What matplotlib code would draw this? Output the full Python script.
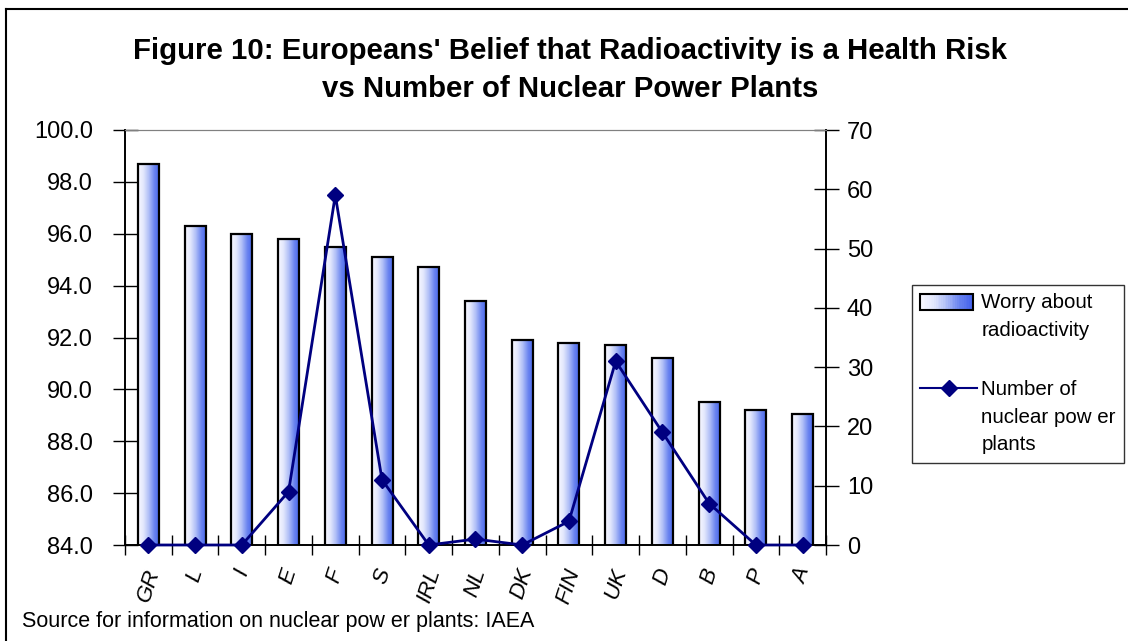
import numpy as np
import matplotlib
matplotlib.use("Agg")
import matplotlib.pyplot as plt
from matplotlib.legend_handler import HandlerBase
from matplotlib.patches import Rectangle
from matplotlib.lines import Line2D
from matplotlib.colors import LinearSegmentedColormap

plt.rcParams['font.family'] = ['Liberation Sans', 'DejaVu Sans']

countries = ["GR", "L", "I", "E", "F", "S", "IRL", "NL", "DK", "FIN", "UK", "D", "B", "P", "A"]
worry = [98.7, 96.3, 96.0, 95.8, 95.5, 95.1, 94.7, 93.4, 91.9, 91.8, 91.7, 91.2, 89.5, 89.2, 89.05]
plants = [0, 0, 0, 9, 59, 11, 0, 1, 0, 4, 31, 19, 7, 0, 0]

left_ticks = [84, 86, 88, 90, 92, 94, 96, 98, 100]
right_ticks = [0, 10, 20, 30, 40, 50, 60, 70]

W, H = 1128, 641
fig = plt.figure(figsize=(W / 100, H / 100), dpi=100)
ax = fig.add_axes([125 / W, 1 - 545 / H, (826 - 125) / W, (545 - 130) / H])

cmap = LinearSegmentedColormap.from_list("g", ["#f8f8ff", "#e2e7fd", "#aebdf7", "#6a84f0", "#4563ec"])
grad = np.linspace(0, 1, 64).reshape(1, -1)

x = np.arange(len(countries))
bars = ax.bar(x, worry, width=0.45, bottom=0, color="none", edgecolor="black", linewidth=1.6, zorder=3)
for b in bars:
    x0, w, h = b.get_x(), b.get_width(), b.get_height()
    im = ax.imshow(grad, cmap=cmap, aspect="auto", extent=(x0, x0 + w, 84, h),
                   zorder=2, interpolation="bilinear")
    im.set_clip_path(b)
ax.set_xlim(-0.5, len(countries) - 0.5)
ax.set_ylim(84, 100)

ax.set_yticks(left_ticks)
ax.set_yticklabels([f"{v:.1f}" for v in left_ticks], fontsize=17)
ax.set_xticks(x)
ax.set_xticklabels(countries, rotation=72, fontsize=16, style="italic",
                   ha="center", va="top")
ax.tick_params(axis="x", length=0, pad=15)
ax.set_xticks(np.arange(len(countries) + 1) - 0.5, minor=True)
ax.tick_params(axis="x", which="minor", direction="inout", length=14, width=1, colors="black")
ax.tick_params(axis="y", direction="inout", length=18, width=1, pad=14)
ax.spines["top"].set_color("#808080")
for s in ["left", "bottom", "right"]:
    ax.spines[s].set_linewidth(1.2)

ax2 = ax.twinx()
ax2.set_ylim(0, 70)
ax2.set_yticks(right_ticks)
ax2.set_yticklabels([str(v) for v in right_ticks], fontsize=17)
ax2.tick_params(axis="y", direction="inout", length=18, width=1, pad=6)
for s in ["left", "bottom", "right"]:
    ax2.spines[s].set_linewidth(1.2)
ax2.spines["top"].set_color("#808080")
line, = ax2.plot(x, plants, color="#000080", linewidth=2, marker="D", markersize=8,
                 clip_on=False, zorder=5)

FS = 14.8
LS = 1.58


class GradHandler(HandlerBase):
    def create_artists(self, legend, orig_handle, xdescent, ydescent, width, height, fontsize, trans):
        arts = []
        n = 30
        w = width / n
        dy = 0.5 * LS * 0.9 * fontsize
        hh = 0.78 * fontsize
        y0 = -ydescent + height / 2 - hh / 2 + dy
        for i in range(n):
            r = Rectangle((-xdescent + i * w, y0), w * 1.05, hh,
                          facecolor=cmap(i / (n - 1)), edgecolor="none", transform=trans)
            arts.append(r)
        arts.append(Rectangle((-xdescent, y0), width, hh, facecolor="none",
                              edgecolor="black", linewidth=1.5, transform=trans))
        return arts


class LineHandler(HandlerBase):
    def create_artists(self, legend, orig_handle, xdescent, ydescent, width, height, fontsize, trans):
        dy = 1.0 * LS * 0.9 * fontsize
        yc = -ydescent + height / 2 + dy
        ln = Line2D([-xdescent, -xdescent + width * 1.08], [yc, yc], color="#000080", linewidth=1.5,
                    transform=trans)
        mk = Line2D([-xdescent + width * 0.54], [yc], color="#000080", marker="D", markersize=8,
                    linestyle="none", transform=trans)
        return [ln, mk]


proxy_bar = Rectangle((0, 0), 1, 1)
proxy_line = Line2D([], [])
leg = fig.legend([proxy_bar, proxy_line],
                 ["Worry about\nradioactivity", "Number of\nnuclear pow er\nplants"],
                 handler_map={Rectangle: GradHandler(), Line2D: LineHandler()},
                 loc="upper left", bbox_to_anchor=(912 / W, 1 - 285 / H),
                 fontsize=FS, frameon=True, fancybox=False, edgecolor="black",
                 handlelength=2.55, handleheight=0.8, labelspacing=1.95,
                 borderpad=0.4, handletextpad=0.42, borderaxespad=0)
leg.get_frame().set_linewidth(1.0)
for t in leg.get_texts():
    t.set_linespacing(LS)

fig.text(570 / W, 1 - 51 / H, "Figure 10: Europeans' Belief that Radioactivity is a Health Risk",
         ha="center", va="center", fontsize=21.2, fontweight="bold")
fig.text(570 / W, 1 - 89 / H, "vs Number of Nuclear Power Plants",
         ha="center", va="center", fontsize=21.2, fontweight="bold")
fig.text(22 / W, 1 - 622 / H, "Source for information on nuclear pow er plants: IAEA",
         ha="left", va="center", fontsize=15.5)

fig.add_artist(Line2D([6 / W, 6 / W], [0, 1 - 9 / H], color="black", linewidth=1.5,
                      transform=fig.transFigure))
fig.add_artist(Line2D([6 / W, 1], [1 - 9 / H, 1 - 9 / H], color="black", linewidth=1.5,
                      transform=fig.transFigure))

fig.savefig("out.png", dpi=100)
